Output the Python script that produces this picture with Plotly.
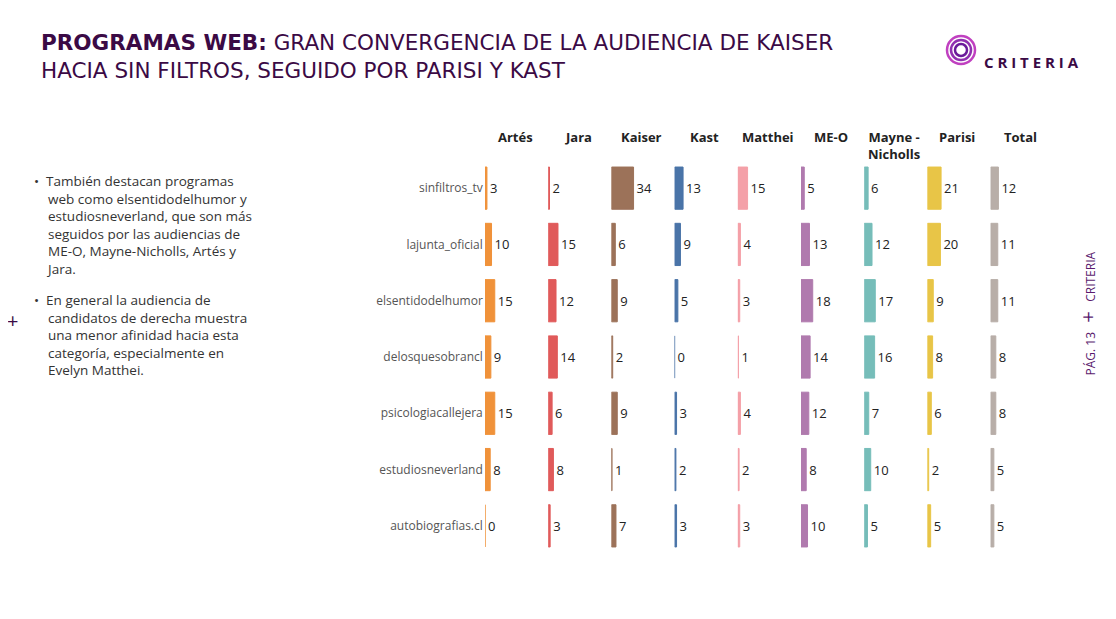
import plotly.graph_objects as go

programs = ["sinfiltros_tv","lajunta_oficial","elsentidodelhumor","delosquesobrancl","psicologiacallejera","estudiosneverland","autobiografias.cl"]
candidates = ["Artés","Jara","Kaiser","Kast","Matthei","ME-O","Mayne -<br>Nicholls","Parisi","Total"]
values = {
 "Artés":[3,10,15,9,15,8,0],
 "Jara":[2,15,12,14,6,8,3],
 "Kaiser":[34,6,9,2,9,1,7],
 "Kast":[13,9,5,0,3,2,3],
 "Matthei":[15,4,3,1,4,2,3],
 "ME-O":[5,13,18,14,12,8,10],
 "Mayne -<br>Nicholls":[6,12,17,16,7,10,5],
 "Parisi":[21,20,9,8,6,2,5],
 "Total":[12,11,11,8,8,5,5],
}
colors = ["#F0923A","#E05A5A","#9C7259","#4A74A8","#F4A0A8","#B07AAE","#76BDB9","#E8C547","#B8AEA8"]

W,H = 1100,600
DX,DY = 9,9
def px(x): return (x-DX)/W
def py(y): return 1-(y-DY)/H

fig = go.Figure()
x0 = 486; step = 63.2
y_top, y_bot = 161, 555
for i,c in enumerate(candidates):
    ax = "" if i==0 else str(i+1)
    left = x0 + i*step
    fig.add_trace(go.Bar(
        x=values[c], y=programs, orientation="h", xaxis="x"+ax, yaxis="y",
        marker=dict(color=colors[i], line=dict(color=colors[i], width=1)),
        width=0.75, text=values[c], textposition="outside", cliponaxis=False,
        textfont=dict(size=13, color="#222", family="Open Sans"), showlegend=False, hoverinfo="skip"))
    fig.layout["xaxis"+ax] = dict(domain=[px(left), px(left+step)], range=[0,97], visible=False, fixedrange=True)
    fig.add_annotation(x=px(left+30), y=py(127), xref="paper", yref="paper", text="<b>"+c+"</b>",
                       showarrow=False, yanchor="top", xanchor="center",
                       font=dict(size=13, color="#222", family="Open Sans"))

fig.update_layout(
    width=W, height=H, margin=dict(l=0,r=0,t=0,b=0), paper_bgcolor="white", plot_bgcolor="white",
    yaxis=dict(domain=[py(y_bot), py(y_top)], autorange="reversed", showgrid=False, zeroline=False,
               ticks="", tickfont=dict(size=12, color="#555", family="Open Sans"), automargin=False,
               anchor="free", position=px(x0) - 0.002, side="left"),
    font=dict(family="Open Sans"),
)
fig.add_annotation(x=px(40), y=py(29), xref="paper", yref="paper", xanchor="left", yanchor="top", align="left",
    showarrow=False, text="<b>PROGRAMAS WEB:</b> GRAN CONVERGENCIA DE LA AUDIENCIA DE KAISER<br>HACIA SIN FILTROS, SEGUIDO POR PARISI Y KAST",
    font=dict(size=21.5, color="#3B0A45", family="DejaVu Sans"))
bullets = ["•  También destacan programas<br>    web como elsentidodelhumor y<br>    estudiosneverland, que son más<br>    seguidos por las audiencias de<br>    ME-O, Mayne-Nicholls, Artés y<br>    Jara.",
           "•  En general la audiencia de<br>    candidatos de derecha muestra<br>    una menor afinidad hacia esta<br>    categoría, especialmente en<br>    Evelyn Matthei."]
for yy,b in zip([171,290],bullets):
    fig.add_annotation(x=px(33), y=py(yy), xref="paper", yref="paper", xanchor="left", yanchor="top", align="left",
        showarrow=False, text=b, font=dict(size=13.5, color="#333", family="Open Sans"))
fig.add_annotation(x=px(6), y=py(321), xref="paper", yref="paper", showarrow=False, text="+",
                   font=dict(size=20, color="#3B0A45"))
fig.add_annotation(x=px(1103), y=py(315), xref="paper", yref="paper", showarrow=False, textangle=-90,
                   text="PÁG. 13   <span style='font-size:20px'>+</span>   CRITERIA", font=dict(size=12, color="#5B1A6E", family="Open Sans"))
for r,col in [(14,"#C040C0"),(10,"#9030B0"),(6,"#6A1A9A")]:
    fig.add_shape(type="circle", xref="paper", yref="paper",
                  x0=px(962-r), x1=px(962+r), y0=py(51+r), y1=py(51-r), line=dict(color=col, width=2.5))
fig.add_annotation(x=px(983), y=py(51), xref="paper", yref="paper", xanchor="left", showarrow=False,
                   text="<b>C R I T E R I A</b>", font=dict(size=15, color="#3B0A45", family="Open Sans"))
fig.write_html("out.html")
